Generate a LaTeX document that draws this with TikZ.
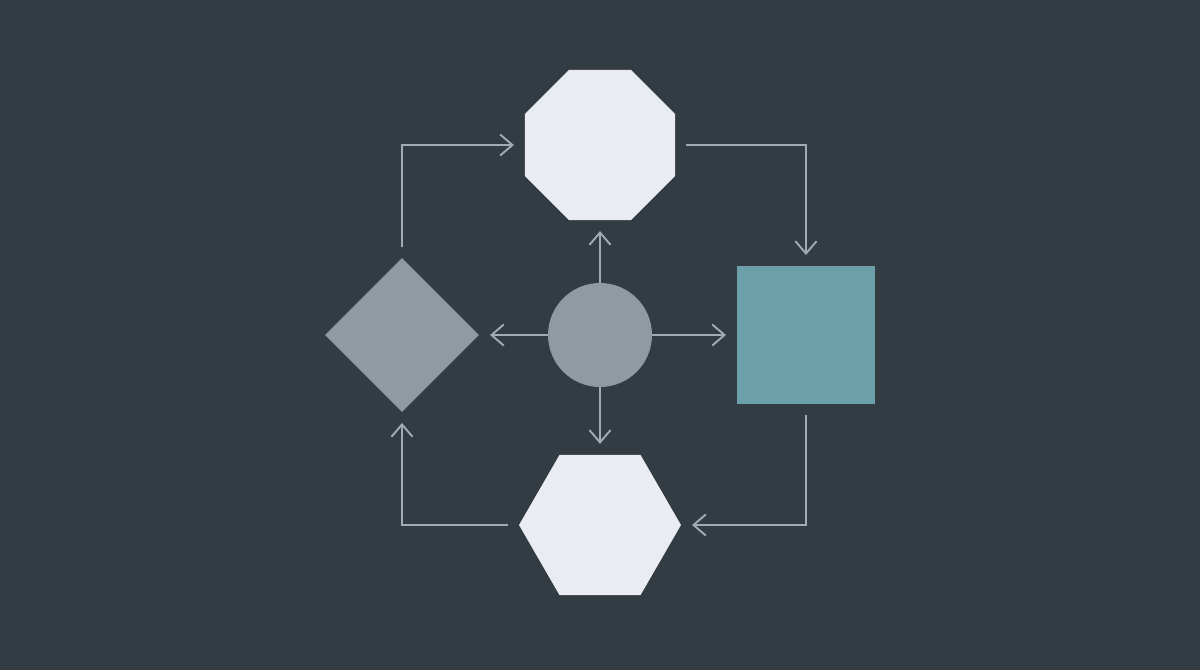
\documentclass[tikz,border=0pt]{standalone}
\usepackage{tikz}
\usetikzlibrary{shapes.geometric,arrows.meta}

\definecolor{bgColor}{RGB}{52,60,67}
\definecolor{lineColor}{RGB}{163,171,178}
\definecolor{paleColor}{RGB}{233,237,241}
\definecolor{slateColor}{RGB}{143,154,163}
\definecolor{tealColor}{RGB}{107,159,170}

\tikzset{
  shapeNode/.style={draw=none, inner sep=0pt, outer sep=0pt},
  flow/.style={draw=lineColor, line width=1.1pt, -{Straight Barb[length=7pt,width=12pt]}, shorten >=0.22cm},
  loop/.style={flow, shorten <=0.22cm}
}

\begin{document}
\begin{tikzpicture}[x=0.02cm,y=-0.02cm]
\fill[bgColor] (0,0) rectangle (1200,670);
% shapes
\node[shapeNode, regular polygon, regular polygon sides=8, minimum size=3.25cm, fill=paleColor] (oct) at (600,145) {};
\node[shapeNode, rectangle, minimum size=2.76cm, fill=tealColor] (sq) at (806,335) {};
\node[shapeNode, regular polygon, regular polygon sides=6, minimum size=3.24cm, fill=paleColor] (hex) at (600,525) {};
\node[shapeNode, diamond, minimum width=3.08cm, minimum height=3.08cm, fill=slateColor] (dia) at (402,335) {};
\node[shapeNode, circle, minimum size=2.08cm, fill=slateColor] (hub) at (600,335) {};
% hub arrows
\foreach \target in {oct,sq,hex,dia}
  \draw[flow] (hub) -- (\target);
% outer loop
\draw[loop] (dia.north) |- (oct.west);
\draw[loop] (oct.east) -| (sq.north);
\draw[loop] (sq.south) |- (hex.east);
\draw[loop] (hex.west) -| (dia.south);
\end{tikzpicture}
\end{document}
